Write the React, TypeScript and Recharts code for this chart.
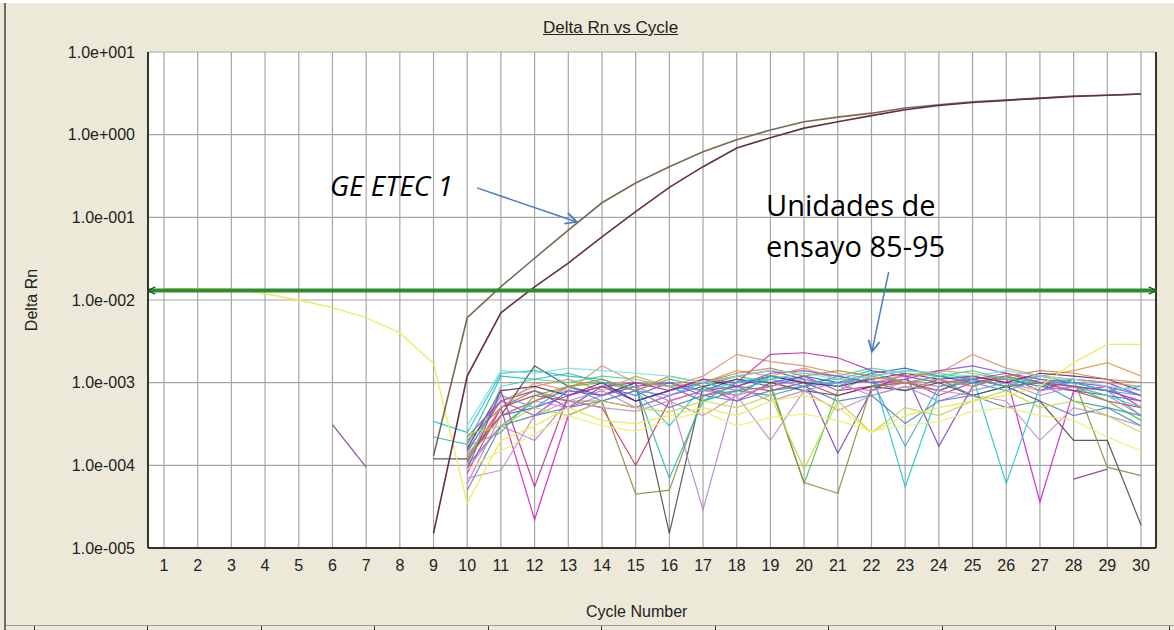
import React from "react";
import {
  LineChart,
  Line,
  XAxis,
  YAxis,
  CartesianGrid,
  ReferenceLine,
} from "recharts";

const cycles = [
  1, 2, 3, 4, 5, 6, 7, 8, 9, 10, 11, 12, 13, 14, 15, 16, 17, 18, 19, 20, 21,
  22, 23, 24, 25, 26, 27, 28, 29, 30,
];

const yTicks = [1e-5, 1e-4, 1e-3, 1e-2, 1e-1, 1, 10];

const threshold = 0.013;

// the two positive wells (GE ETEC 1), cycles 1..30
const etecUpper = [
  null, null, null, null, null, null, null, null, 1.3e-4, 6.1e-3, 0.0145, 0.032,
  0.07, 0.15, 0.26, 0.41, 0.62, 0.87, 1.14, 1.43, 1.63, 1.82, 2.1, 2.3, 2.5,
  2.63, 2.77, 2.94, 3.0, 3.1,
];
const etecLower = [
  null, null, null, null, null, null, null, null, 1.5e-5, 1.2e-3, 0.007,
  0.0144, 0.028, 0.058, 0.117, 0.23, 0.41, 0.69, 0.92, 1.2, 1.43, 1.7, 2.0,
  2.25, 2.45, 2.6, 2.75, 2.9, 3.0, 3.1,
];

// yellow well, cycles 1..30, in units of 1e-4
const yellowDrift = [
  137, 137, 136, 119, 100, 81, 61, 40, 17, 0.35, 2, 3, 5, 3.5, 3.2, 4, 5, 4, 6,
  7, 5, 2.5, 4, 5, 6, 7, 9, 17.5, 29, 29,
];

// short fragments, cycles 1..30, units of 1e-4
const purpleEarly = [
  null, null, null, null, null, 3.1, 0.95, null, null, null, null, null, null,
  null, null, null, null, null, null, null, null, null, null, null, null, null,
  null, null, null, null,
];
const violetLate = [
  null, null, null, null, null, null, null, null, null, null, null, null, null,
  null, null, null, null, null, null, null, null, null, null, null, null, null,
  null, 0.68, 0.9, null,
];

// negative wells (units 85-95), cycles 9..30, in units of 1e-4
const magenta = [null, 0.8, 5, 0.22, 4, 6, 5, 7, 9, 6, 10, 12, 8, 9, 11, 7, 10, 12, 0.36, 8, 9, 5];
const purple = [null, 1.5, 6, 8, 5, 9, 6, 8, 10, 12, 14, 11, 1.4, 8, 13, 1.7, 9, 12, 8, 11, 10, 7];
const cyan = [3.4, 2.5, 13, 14, 12, 11, 8, 3, 9, 7, 12, 10, 11, 14, 0.55, 8, 12, 0.6, 9, 10, 8, 4];
const teal = [null, 1, 3, 6, 8, 7, 10, 9, 6, 8, 7, 9, 12, 10, 8, 11, 7, 9, 10, 6, 5, 3];
const blue = [null, 1.3, 4, 5, 7, 9, 7, 10, 8, 11, 9, 12, 10, 13, 15, 12, 10, 11, 9, 8, 7, 6];
const orange = [null, 1.8, 6, 9, 11, 8, 12, 9, 10, 14, 12, 15, 11, 10, 12, 14, 13, 11, 12, 14, 17.5, 12];
const red = [null, 1.1, 5, 7, 6, 5, 1.0, 6, 8, 9, 8, 10, 7, 9, 10, 8, 11, 9, 10, 8, 6, 5];
const green = [null, 1.7, 2.5, 7, 9, 10, 8, 11, 9, 12, 10, 0.6, 8, 12, 14, 13, 11, 12, 10, 9, 6, 3.5];
const darkGray = [1.2, 1.2, 4, 16, 9, 7, 10, 0.15, 9, 11, 10, 8, 7, 9, 8, 10, 7, 9, 6, 2, 2, 0.19];
const lavender = [null, 0.9, 3, 2, 6, 8, 5, 7, 0.29, 9, 6, 8, 10, 7, 9, 6, 8, 10, 7, 9, 8, 6];
const pink = [null, 0.6, 4, 6, 5, 7, 9, 6, 8, 7, 9, 11, 9, 8, 10, 9, 12, 10, 8, 9, 7, 4];
const olive = [null, 2, 5, 8, 6, 6, 0.45, 0.5, 7, 8, 9, 0.62, 0.46, 9, 10, 8, 11, 9, 10, 11, 0.95, 0.75];
const skyBlue = [null, 1.4, 7, 5, 9, 6, 8, 7, 10, 8, 11, 9, 10, 11, 1.7, 9, 10, 8, 11, 9, 8, 7];
const darkPurple = [null, 1.6, 8, 9, 7, 10, 6, 8, 11, 9, 12, 10, 9, 11, 13, 11, 12, 10, 13, 12, 11, 8];
const aqua = [null, 1.0, 9, 11, 10, 12, 11, 9, 8, 10, 11, 13, 12, 15, 13, 12, 14, 11, 10, 9, 7, 5];
const violet = [null, 2.2, 6, 4, 8, 7, 9, 10, 7, 9, 13, 14, 12, 10, 11, 14, 16, 13, 11, 10, 9, 7];
const salmon = [null, 1.3, 5, 10, 8, 16, 10, 9, 12, 22, 18, 16, 13, 11, 12, 13, 22, 15, 12, 11, 10, 9];
const lilac = [null, 0.7, 0.87, 4, 6, 5, 4.5, 6, 4, 7, 2, 8, 4.6, 7, 9, 8, 7, 6, 2, 5, 4, 3];
const plum = [null, 0.9, 8, 0.55, 7, 9, 10, 8, 11, 10, 22, 23, 20, 14, 12, 10, 11, 13, 10, 9, 8, 6];
const turquoise = [2.2, 1.8, 12, 11, 13, 10, 9, 0.7, 6, 10, 12, 11, 9, 13, 10, 12, 11, 9, 12, 10, 8, 9];
const amber = [null, 1.2, 4, 6, 9, 11, 8, 12, 10, 13, 15, 12, 14, 12, 10, 11, 9, 12, 14, 13, 11, 10];
const steel = [null, 0.5, 3, 4, 5, 6, 8, 5, 7, 6, 8, 9, 6, 7, 3.2, 6, 7, 5, 6, 4, 5, 4];
const lime = [null, 2.4, 3, 5, 4, 6, 5, 4.4, 6, 5, 7, 0.9, 6, 2.5, 5, 4, 6, 8, 5, 6, 4, 2.5];
const paleYellow = [null, 0.9, 1.5, 2.4, 4, 3, 2.6, 3.5, 4.5, 3, 3.8, 4.2, 3.5, 2.6, 3, 3.4, 4.5, 5, 4, 3.5, 2.2, 1.5];
const lightCyan = [null, 3, 14, 13, 15, 14, 13, 12, 10, 12, 14, 13, 11, 12, 14, 13, 12, 14, 12, 11, 9, 8];

const UNIT = 1e-4;

const noiseSeries = [
  { key: "magenta", values: magenta, color: "#d21cc4" },
  { key: "purple", values: purple, color: "#7c3cc4" },
  { key: "cyan", values: cyan, color: "#1ec8cc" },
  { key: "teal", values: teal, color: "#2a9e9e" },
  { key: "blue", values: blue, color: "#3462d2" },
  { key: "orange", values: orange, color: "#e49a3c" },
  { key: "red", values: red, color: "#d23056" },
  { key: "green", values: green, color: "#4cc04c" },
  { key: "darkGray", values: darkGray, color: "#4a4a4a" },
  { key: "lavender", values: lavender, color: "#b284d8" },
  { key: "pink", values: pink, color: "#e26cc2" },
  { key: "olive", values: olive, color: "#8c8c3c" },
  { key: "skyBlue", values: skyBlue, color: "#3ea6e0" },
  { key: "darkPurple", values: darkPurple, color: "#5e2080" },
  { key: "aqua", values: aqua, color: "#3cd8a2" },
  { key: "violet", values: violet, color: "#8e4ee0" },
  { key: "salmon", values: salmon, color: "#e29072" },
  { key: "lilac", values: lilac, color: "#c48ec4" },
  { key: "plum", values: plum, color: "#c02ea0" },
  { key: "turquoise", values: turquoise, color: "#2cb6b8" },
  { key: "amber", values: amber, color: "#c8843e" },
  { key: "steel", values: steel, color: "#5e80b2" },
  { key: "lime", values: lime, color: "#bcd63c" },
  { key: "paleYellow", values: paleYellow, color: "#eeee6a" },
  { key: "lightCyan", values: lightCyan, color: "#7edede" },
];

const fragments = [
  { key: "purpleEarly", values: purpleEarly, color: "#8a5aa8" },
  { key: "violetLate", values: violetLate, color: "#9a46b0" },
  { key: "yellowDrift", values: yellowDrift, color: "#ecec5a" },
];

const data = cycles.map((cycle, i) => {
  const row: Record<string, number | null> = { cycle };
  row.etecUpper = etecUpper[i];
  row.etecLower = etecLower[i];
  fragments.forEach((f) => {
    const v = f.values[i];
    row[f.key] = v == null ? null : v * UNIT;
  });
  noiseSeries.forEach((s) => {
    const v = cycle >= 9 ? s.values[cycle - 9] : null;
    row[s.key] = v == null ? null : v * UNIT;
  });
  return row;
});

const fmtSci = (v: number) => {
  const exp = Math.round(Math.log10(v));
  const sign = exp < 0 ? "-" : "+";
  return `1.0e${sign}${String(Math.abs(exp)).padStart(3, "0")}`;
};

const BG = "#ECE9D8";
const TEXT = "#222";
const ARROW_BLUE = "#4a7ebb";

export default function App() {
  return (
    <div
      style={{
        position: "absolute",
        left: 0,
        top: 0,
        width: 1174,
        height: 630,
        background: BG,
        overflow: "hidden",
        fontFamily: "Arial, 'Liberation Sans', sans-serif",
      }}
    >
      <svg width={0} height={0} style={{ position: "absolute" }}>
        <defs>
          <marker id="thrEnd" viewBox="0 0 10 10" refX={9} refY={5} markerWidth={9} markerHeight={9} markerUnits="userSpaceOnUse" orient="auto">
            <path d="M1,1 L9,5 L1,9" fill="none" stroke="#1f5f1f" strokeWidth={1.6} />
          </marker>
          <marker id="thrStart" viewBox="0 0 10 10" refX={1} refY={5} markerWidth={9} markerHeight={9} markerUnits="userSpaceOnUse" orient="auto">
            <path d="M9,1 L1,5 L9,9" fill="none" stroke="#1f5f1f" strokeWidth={1.6} />
          </marker>
          <marker id="blueHead" viewBox="0 0 10 10" refX={9} refY={5} markerWidth={14} markerHeight={14} markerUnits="userSpaceOnUse" orient="auto">
            <path d="M1,1 L9,5 L1,9" fill="none" stroke={ARROW_BLUE} strokeWidth={1.3} />
          </marker>
        </defs>
      </svg>

      {/* window chrome */}
      <div style={{ position: "absolute", left: 0, top: 0, width: 1174, height: 3, background: "#fff" }} />
      <div style={{ position: "absolute", left: 4, top: 3, width: 2, height: 627, background: "#6e6e6e" }} />
      <div style={{ position: "absolute", left: 6, top: 625, width: 1168, height: 1, background: "#9a9a9a" }} />
      {[34, 147, 261, 374, 488, 601, 715, 828, 942, 1055, 1169].map((x) => (
        <div key={x} style={{ position: "absolute", left: x, top: 626, width: 1, height: 4, background: "#333" }} />
      ))}

      <LineChart
        width={1174}
        height={630}
        data={data}
        margin={{ top: 52, right: 18, bottom: 0, left: 0 }}
        style={{ position: "absolute", left: 0, top: 0 }}
      >
        <rect />
        <CartesianGrid
          stroke="#a6a6a6"
          strokeWidth={1.2}
          fill="#ffffff"
          verticalPoints={undefined}
        />
        <XAxis
          dataKey="cycle"
          type="number"
          domain={[0.525, 30.445]}
          ticks={cycles}
          interval={0}
          allowDataOverflow
          tickLine={false}
          tickSize={0}
          tickMargin={12}
          height={82}
          axisLine={{ stroke: "#333", strokeWidth: 2 }}
          tick={{ fontSize: 16, fill: TEXT, fontFamily: "Arial" }}
        />
        <YAxis
          type="number"
          scale="log"
          domain={[1e-5, 10]}
          ticks={yTicks}
          interval={0}
          allowDataOverflow
          width={148}
          tickLine={false}
          tickSize={0}
          tickMargin={13}
          tickFormatter={fmtSci}
          axisLine={{ stroke: "#333", strokeWidth: 2 }}
          tick={{ fontSize: 16, fill: TEXT, fontFamily: "Arial" }}
        />
        <ReferenceLine x={30.445} stroke="#333" strokeWidth={2} />

        {noiseSeries.map((s) => (
          <Line
            key={s.key}
            dataKey={s.key}
            stroke={s.color}
            strokeWidth={1.2}
            strokeOpacity={0.9}
            dot={false}
            activeDot={false}
            isAnimationActive={false}
          />
        ))}
        {fragments.map((s) => (
          <Line
            key={s.key}
            dataKey={s.key}
            stroke={s.color}
            strokeWidth={1.3}
            dot={false}
            activeDot={false}
            isAnimationActive={false}
          />
        ))}
        <Line dataKey="etecUpper" stroke="#7a6852" strokeWidth={1.6} dot={false} activeDot={false} isAnimationActive={false} />
        <Line dataKey="etecLower" stroke="#643044" strokeWidth={1.6} dot={false} activeDot={false} isAnimationActive={false} />

        <ReferenceLine
          y={threshold}
          stroke="#2e8b2e"
          strokeWidth={4}
          markerStart="url(#thrStart)"
          markerEnd="url(#thrEnd)"
        />
        <ReferenceLine
          segment={[
            { x: 10.29, y: 0.227 },
            { x: 13.25, y: 0.088 },
          ]}
          stroke={ARROW_BLUE}
          strokeWidth={1.5}
          markerEnd="url(#blueHead)"
          ifOverflow="visible"
        />
        <ReferenceLine
          segment={[
            { x: 22.51, y: 0.0219 },
            { x: 22.01, y: 0.00236 },
          ]}
          stroke={ARROW_BLUE}
          strokeWidth={1.5}
          markerEnd="url(#blueHead)"
          ifOverflow="visible"
        />
      </LineChart>

      {/* titles */}
      <div
        style={{
          position: "absolute",
          left: 543,
          top: 18,
          fontSize: 17,
          color: TEXT,
          textDecoration: "underline",
          whiteSpace: "nowrap",
        }}
      >
        Delta Rn vs Cycle
      </div>
      <div
        style={{
          position: "absolute",
          left: 586,
          top: 603,
          fontSize: 16,
          color: TEXT,
          whiteSpace: "nowrap",
        }}
      >
        Cycle Number
      </div>
      <div
        style={{
          position: "absolute",
          left: 32,
          top: 300,
          fontSize: 16,
          color: TEXT,
          whiteSpace: "nowrap",
          transform: "translate(-50%, -50%) rotate(-90deg)",
        }}
      >
        Delta Rn
      </div>

      {/* annotations */}
      <div
        style={{
          position: "absolute",
          left: 330,
          top: 166,
          fontSize: 28,
          fontStyle: "italic",
          fontFamily: "'Open Sans', sans-serif",
          color: "#000",
          whiteSpace: "nowrap",
        }}
      >
        GE ETEC 1
      </div>
      <div
        style={{
          position: "absolute",
          left: 766,
          top: 184,
          fontSize: 29,
          lineHeight: "41px",
          fontFamily: "'Open Sans', sans-serif",
          color: "#000",
          whiteSpace: "nowrap",
        }}
      >
        Unidades de
        <br />
        ensayo 85-95
      </div>
    </div>
  );
}
